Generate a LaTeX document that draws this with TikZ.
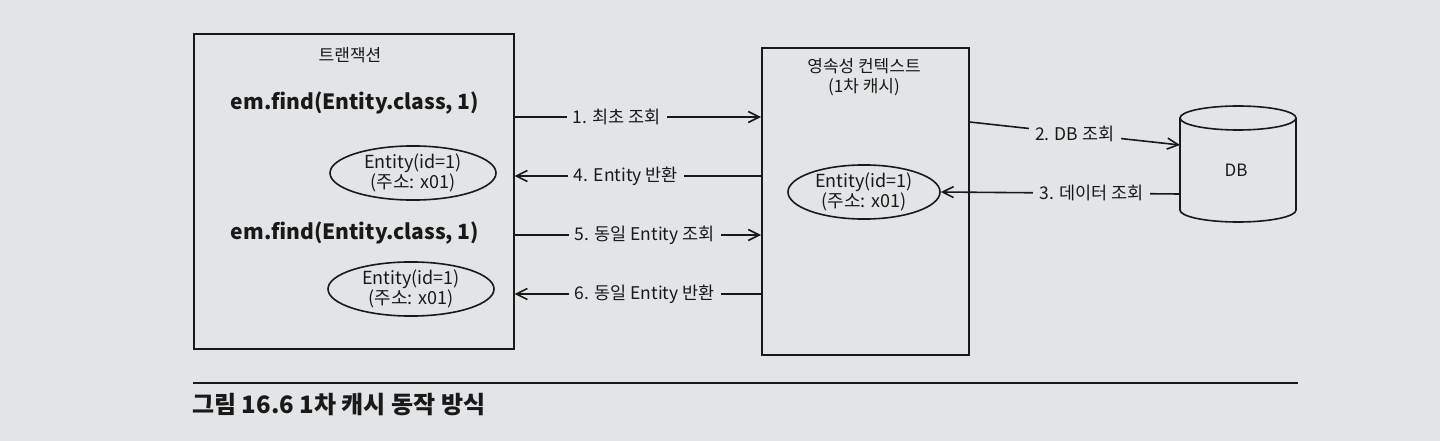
\documentclass[tikz,border=0pt]{standalone}
\usepackage{fontspec}
\setmainfont{Noto Sans CJK KR}
\usetikzlibrary{shapes.geometric,arrows.meta}
\definecolor{bg}{RGB}{226,228,229}
\definecolor{ink}{RGB}{25,25,25}
\begin{document}
\begin{tikzpicture}[x=1pt,y=-1pt,
  line/.style={draw=ink,line width=1.6pt},
  box/.style={line, rectangle, inner sep=0pt, anchor=north west},
  ent/.style={line, ellipse, inner sep=0pt, align=center, font=\fontsize{18}{20}\selectfont, text=ink},
  code/.style={font=\bfseries\fontsize{21}{26}\selectfont, text=ink},
  lbl/.style={fill=bg, inner xsep=6pt, inner ysep=2pt, font=\fontsize{17.5}{20}\selectfont, text=ink},
  ttl/.style={align=center, font=\fontsize{17}{20}\selectfont, text=ink},
  arr/.style={line, -{Straight Barb[length=11pt,width=11pt]}}
]
\fill[bg] (0,0) rectangle (1440,441);
\useasboundingbox (0,0) rectangle (1440,441);

% left box
\node[box, minimum width=320pt, minimum height=315pt] (L) at (193,33) {};
\node[ttl] (Lt) at (350,55) {트랜잭션};
\node[code] (f1) at (355,103) {em.find(Entity.class, 1)};
\node[ent, minimum width=166pt, minimum height=52pt] (e1) at (413,173) {Entity(id=1)\\(주소: x01)};
\node[code] (f2) at (355,233) {em.find(Entity.class, 1)};
\node[ent, minimum width=166pt, minimum height=52pt] (e2) at (411,289) {Entity(id=1)\\(주소: x01)};

% right box
\node[box, minimum width=207pt, minimum height=307pt] (R) at (761,47) {};
\node[ttl] (Rt) at (864,77) {영속성 컨텍스트\\(1차 캐시)};
\node[ent, minimum width=152pt, minimum height=54pt] (e3) at (864,192) {Entity(id=1)\\(주소: x01)};

% DB cylinder
\node[inner sep=0pt, minimum width=116pt, minimum height=116pt, anchor=north west] (DB) at (1180,106) {};
\draw[line] (1238,118) ellipse [x radius=58, y radius=12];
\draw[line] (1180,118) -- (1180,210) arc[start angle=180, end angle=0, x radius=58, y radius=12] -- (1296,118);
\node[ttl] (DBt) at (1236,170) {DB};

% connectors
\draw[arr] (L.east |- 0,117) -- node[lbl,pos=.415]{1. 최초 조회} (R.west |- 0,117);
\draw[arr] (R.west |- 0,176) -- node[lbl,pos=.548]{4. Entity 반환} (L.east |- 0,176);
\draw[arr] (L.east |- 0,235) -- node[lbl,pos=.528]{5. 동일 Entity 조회} (R.west |- 0,235);
\draw[arr] (R.west |- 0,294) -- node[lbl,pos=.472]{6. 동일 Entity 반환} (L.east |- 0,294);
\draw[arr] (R.east |- 0,122) -- node[lbl,pos=.5]{2. DB 조회} (DB.west |- 0,145);
\draw[arr] (DB.west |- 0,194) -- node[lbl,pos=.37]{3. 데이터 조회} (e3.east);

% caption
\draw[ink, line width=1.2pt] (193,383) -- (1298,383);
\node[anchor=west, inner sep=0pt, text=ink, font=\bfseries\fontsize{24}{26}\selectfont] (cap) at (192,405) {그림 16.6 1차 캐시 동작 방식};
\end{tikzpicture}
\end{document}
